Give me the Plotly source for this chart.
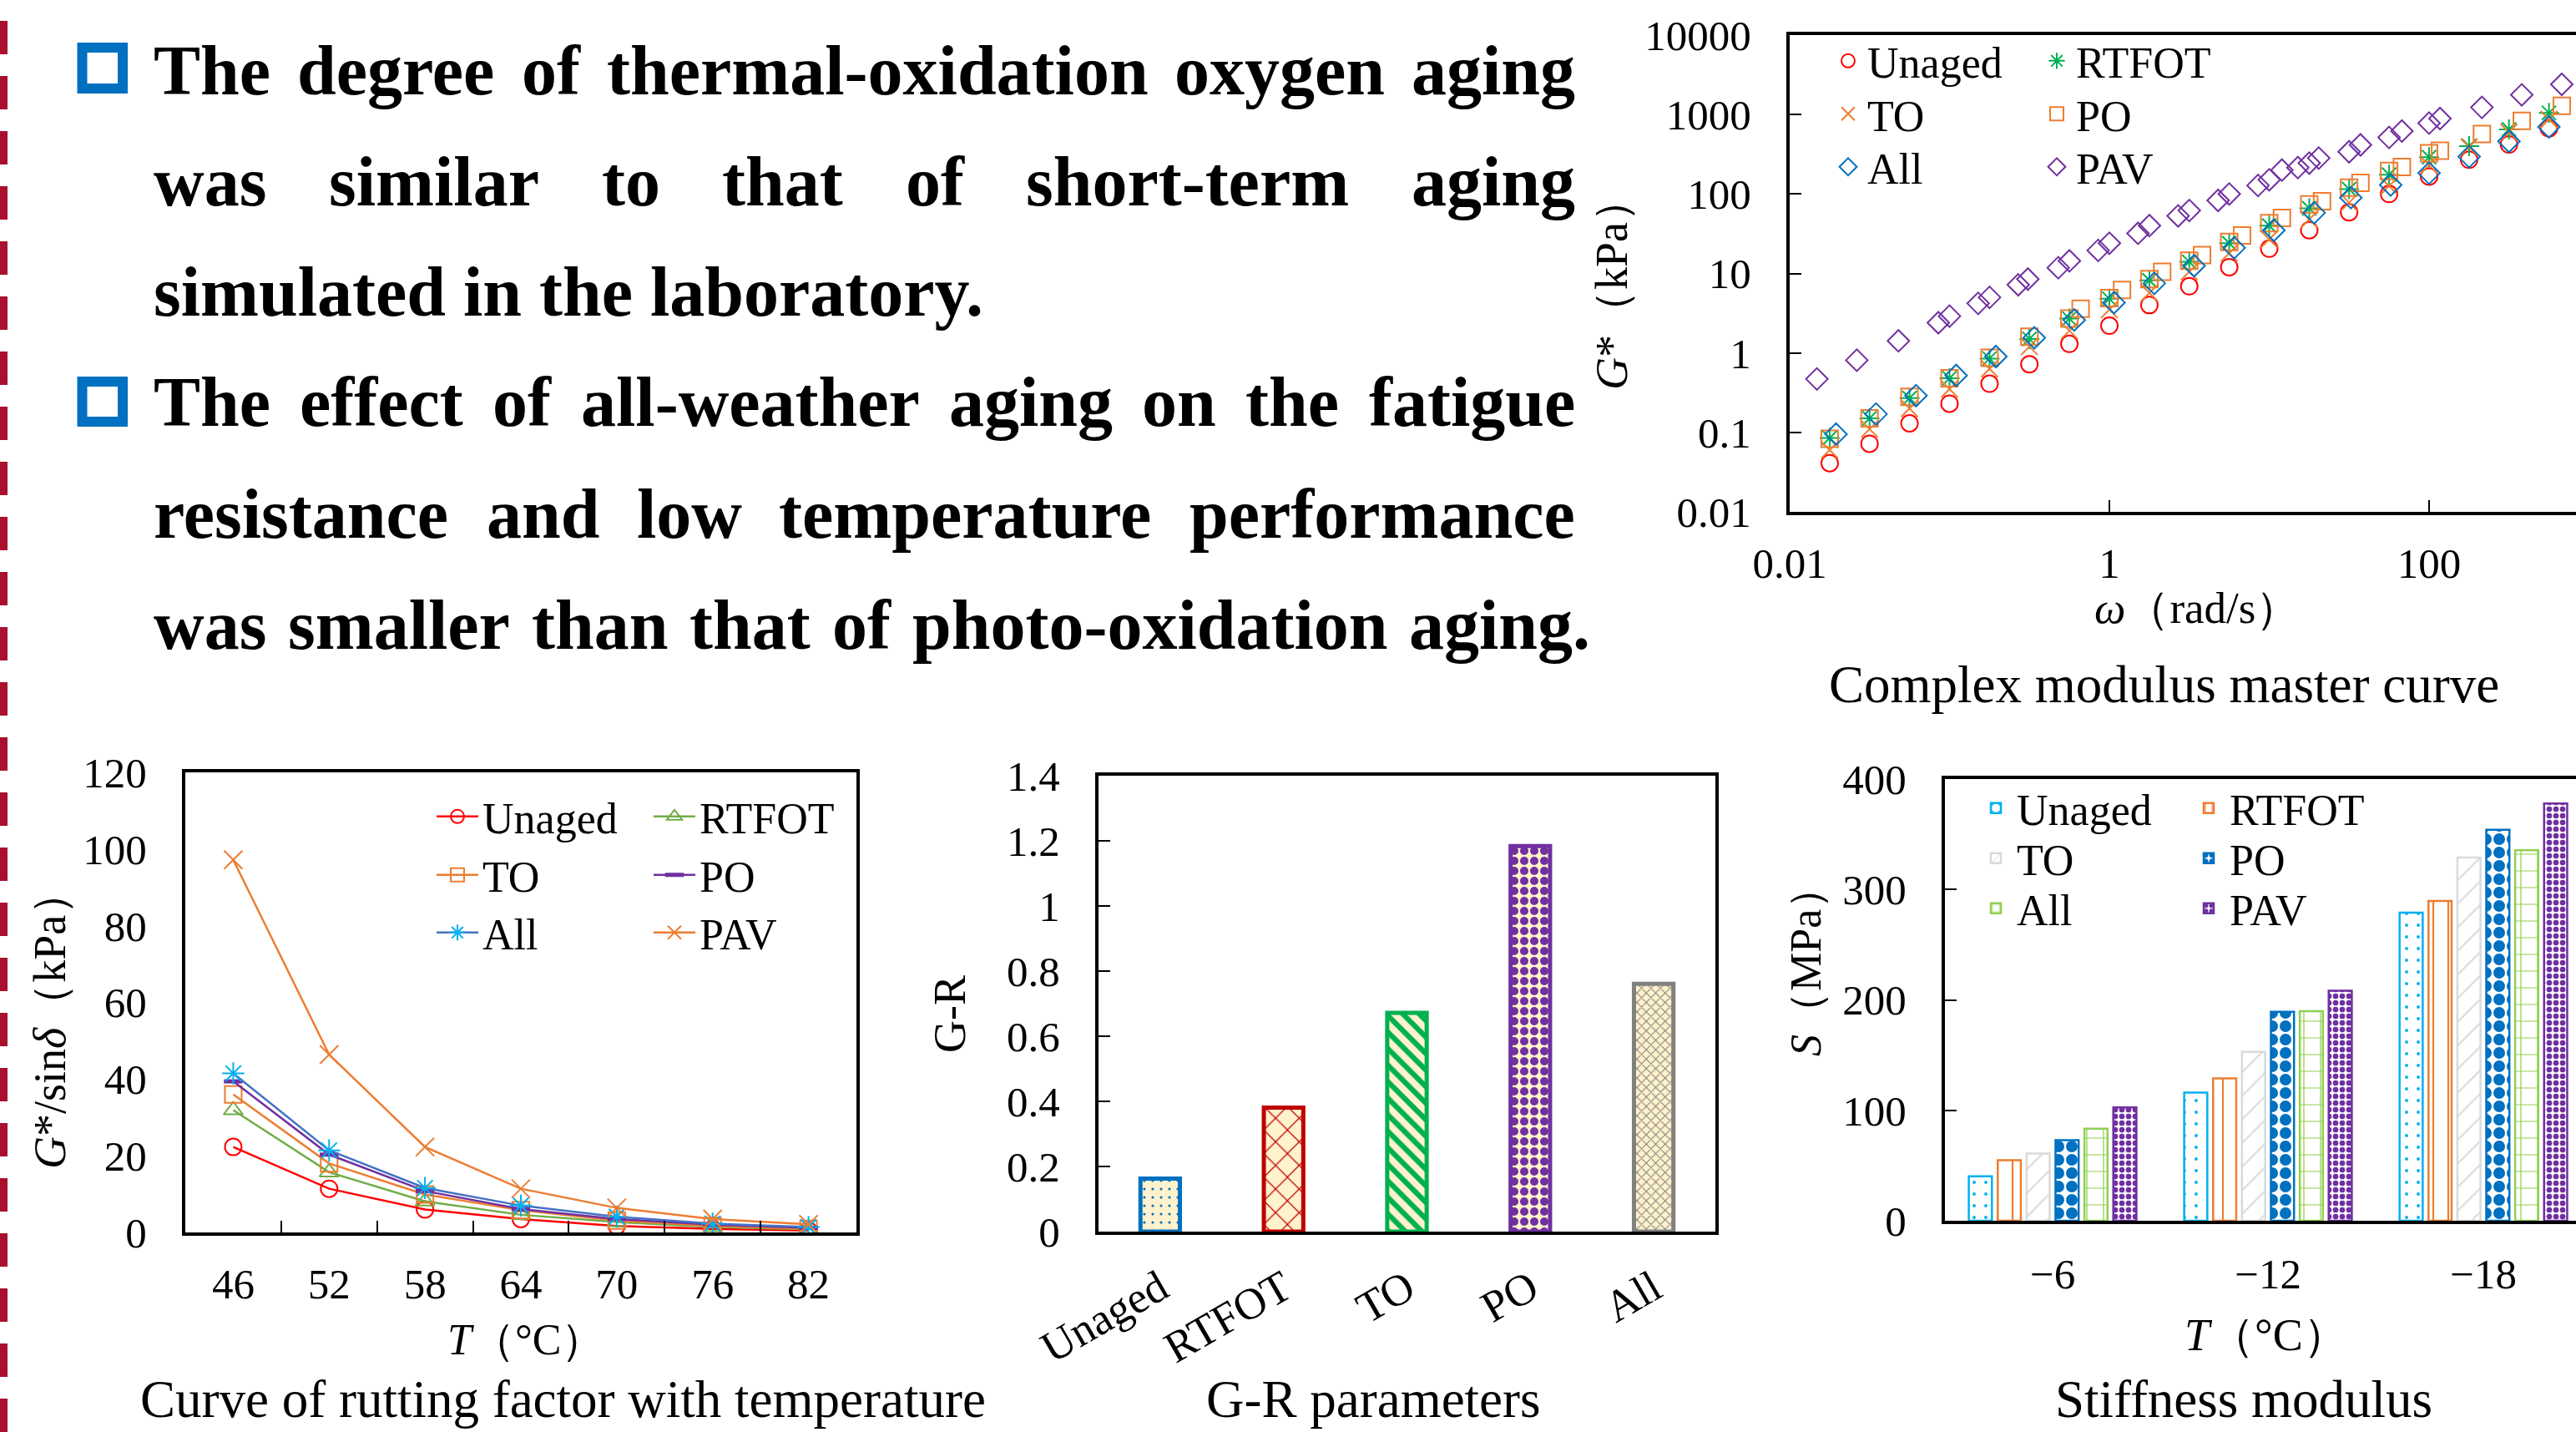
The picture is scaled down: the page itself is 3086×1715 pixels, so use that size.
import plotly.graph_objects as go

W, H = 3086, 1715
OFF = 0  # body margin removed by post_script below
SERIF = "Liberation Serif, 'Times New Roman', serif"

# ---------------- data ----------------
series = ["Unaged", "RTFOT", "TO", "PO", "All", "PAV"]

# Complex modulus master curve: omega (rad/s) and G* (kPa)
mc_w = [0.0178, 0.0316, 0.0562, 0.1, 0.178, 0.316, 0.562, 1.0, 1.78, 3.16,
        5.62, 10, 17.8, 31.6, 56.2, 100, 178, 316, 562]
mc_unaged = [0.041, 0.072, 0.13, 0.23, 0.41, 0.72, 1.3, 2.2, 4.0, 6.9,
             12, 20.5, 35, 59, 100, 166, 270, 420, 670]
mc_rtfot = [0.085, 0.15, 0.27, 0.48, 0.85, 1.5, 2.7, 4.8, 8.2, 14,
            24, 40, 66, 115, 175, 290, 400, 650, 1050]
mc_to = [0.06, 0.11, 0.2, 0.35, 0.63, 1.2, 1.9, 3.5, 5.7, 10.5,
         18, 27, 48, 78, 126, 230, 390, 600, 870]
mc_all_w = [0.0195, 0.0347, 0.0617, 0.11, 0.195, 0.339, 0.603, 1.07, 1.91, 3.39,
            6.03, 10.7, 19.1, 32.4, 57.5, 100, 178, 316, 562]
mc_all = [0.095, 0.17, 0.29, 0.52, 0.9, 1.55, 2.6, 4.3, 7.5, 12.5,
          21, 35, 58, 90, 130, 183, 295, 460, 700]
mc_po_w = [0.0178, 0.0316, 0.0562, 0.1, 0.178, 0.316, 0.562, 0.661, 1.0, 1.2,
           1.78, 2.14, 3.16, 3.8, 5.62, 6.76, 10, 12.0, 17.8, 21.4,
           31.6, 37.2, 56.2, 67.6, 100, 117, 214, 380, 676]
mc_po = [0.083, 0.15, 0.28, 0.48, 0.87, 1.6, 2.7, 3.6, 4.9, 6.2,
         8.5, 10.5, 14.5, 17, 25, 30, 43, 50, 74, 81,
         120, 138, 195, 218, 325, 350, 570, 830, 1290]
mc_pav_w = [0.0148, 0.0263, 0.0479, 0.0851, 0.1, 0.151, 0.178, 0.269, 0.309, 0.479,
            0.562, 0.851, 1.0, 1.51, 1.78, 2.69, 3.16, 4.79, 5.62, 8.51,
            10, 12.0, 15.1, 17.8, 20.4, 31.6, 37.2, 56.2, 67.6, 100,
            117, 214, 380, 676]
mc_pav = [0.47, 0.81, 1.42, 2.4, 2.9, 4.2, 5.0, 7.2, 8.5, 11.8,
          14.4, 19.5, 24, 32, 40, 53, 62, 83, 100, 128,
          151, 200, 215, 245, 283, 340, 415, 515, 620, 780,
          890, 1230, 1770, 2400]
mc_xticks = [0.01, 1, 100]
mc_xticktext = ["0.01", "1", "100"]
mc_yticks = [0.01, 0.1, 1, 10, 100, 1000, 10000]
mc_yticktext = ["0.01", "0.1", "1", "10", "100", "1000", "10000"]

# Rutting factor G*/sin(delta) (kPa) vs temperature
rut_temps = ["46", "52", "58", "64", "70", "76", "82"]
rut_unaged = [22.3, 11.4, 6.0, 3.5, 1.7, 0.9, 0.5]
rut_rtfot = [31.9, 15.7, 8.1, 4.6, 2.7, 1.4, 0.8]
rut_to = [36.0, 18.0, 9.9, 5.8, 3.1, 1.7, 0.9]
rut_po = [39.4, 20.3, 10.8, 6.1, 3.5, 2.0, 1.2]
rut_all = [41.5, 21.4, 11.6, 7.0, 4.1, 2.3, 1.4]
rut_pav = [97.2, 46.4, 22.3, 11.4, 6.4, 3.5, 2.1]

# G-R parameter
gr_cats = ["Unaged", "RTFOT", "TO", "PO", "All"]
gr_vals = [0.163, 0.381, 0.672, 1.184, 0.761]

# Stiffness modulus S (MPa)
st_temps = ["\u22126", "\u221212", "\u221218"]
st_unaged = [40.3, 116, 279]
st_rtfot = [54.8, 128.9, 289.6]
st_to = [60.8, 153, 329]
st_po = [72.9, 189.3, 354]
st_all = [83.4, 189.7, 335.5]
st_pav = [102.7, 208.3, 377.8]

text_lines = [
    "The degree of thermal-oxidation oxygen aging",
    "was similar to that of short-term aging",
    "simulated in the laboratory.",
    "The effect of all-weather aging on the fatigue",
    "resistance and low temperature performance",
    "was smaller than that of photo-oxidation aging.",
]

# ---------------- helpers ----------------
def fx(p):
    return (p - OFF) / W


def fy(p):
    return 1 - (p - OFF) / H


BLACK = "black"
TICKFONT = dict(family=SERIF, size=51, color=BLACK)

fig = go.Figure()

# ---------- top-right: complex modulus master curve ----------
mc_styles = [
    ("Unaged", mc_w, mc_unaged, "circle-open", "#FF0000"),
    ("RTFOT", mc_w, mc_rtfot, "asterisk-open", "#00B050"),
    ("TO", mc_w, mc_to, "x-thin-open", "#ED7D31"),
    ("PO", mc_po_w, mc_po, "square-open", "#ED7D31"),
    ("All", mc_all_w, mc_all, "diamond-open", "#0070C0"),
    ("PAV", mc_pav_w, mc_pav, "diamond-open", "#7030A0"),
]
for i, (nm, xs, ys, sym, col) in enumerate(mc_styles):
    fig.add_trace(go.Scatter(
        x=xs, y=ys, name=nm, mode="markers", xaxis="x", yaxis="y",
        marker=dict(symbol=sym, size=20, color=col, line=dict(color=col, width=2)),
        legend="legend" if i == 0 else f"legend{i + 1}",
    ))

# ---------- bottom-left: rutting factor ----------
rut_styles = [
    ("Unaged", rut_unaged, "circle-open", "#FF0000", "#FF0000", 20),
    ("RTFOT", rut_rtfot, "triangle-up-open", "#70AD47", "#70AD47", 20),
    ("TO", rut_to, "square-open", "#ED7D31", "#ED7D31", 20),
    ("PO", rut_po, "line-ew", "#7030A0", "#7030A0", 16),
    ("All", rut_all, "asterisk-open", "#4472C4", "#00B0F0", 22),
    ("PAV", rut_pav, "x-thin-open", "#ED7D31", "#ED7D31", 22),
]
for i, (nm, ys, sym, lc, mcol, ms) in enumerate(rut_styles):
    fig.add_trace(go.Scatter(
        x=rut_temps, y=ys, name=nm, mode="lines+markers", xaxis="x2", yaxis="y2",
        line=dict(color=lc, width=2.5),
        marker=dict(symbol=sym, size=ms, color=mcol,
                    line=dict(color=mcol, width=5 if sym == "line-ew" else 2)),
        legend=f"legend{7 + i}",
    ))

# ---------- bottom-middle: G-R ----------
gr_colors = ["#0070C0", "#C00000", "#00B050", "#7030A0", "#808080"]
gr_shapes = [".", "x", "\\", ".", "x"]
gr_sizes = [10, 20, 14, 12, 8]
gr_solid = [0.08, 0.12, 0.45, 0.55, 0.25]
fig.add_trace(go.Bar(
    x=gr_cats, y=gr_vals, width=0.32, xaxis="x3", yaxis="y3", showlegend=False,
    marker=dict(color="#FFF2CC", line=dict(color=gr_colors, width=5),
                pattern=dict(shape=gr_shapes, fgcolor=gr_colors, bgcolor="#FFF2CC",
                             size=gr_sizes, solidity=gr_solid, fillmode="replace")),
))

# ---------- bottom-right: stiffness ----------
st_styles = [
    ("Unaged", st_unaged, "#00B0F0", ".", 14, 0.06),
    ("RTFOT", st_rtfot, "#ED7D31", "|", 18, 0.12),
    ("TO", st_to, "#D9D9D9", "/", 20, 0.1),
    ("PO", st_po, "#0070C0", ".", 16, 0.6),
    ("All", st_all, "#92D050", "+", 20, 0.12),
    ("PAV", st_pav, "#7030A0", ".", 8, 0.55),
]
for i, (nm, ys, col, shp, sz, sol) in enumerate(st_styles):
    fig.add_trace(go.Bar(
        x=st_temps, y=ys, name=nm, xaxis="x4", yaxis="y4",
        marker=dict(color="white", line=dict(color=col, width=2.5),
                    pattern=dict(shape=shp, fgcolor=col, bgcolor="white",
                                 size=sz, solidity=sol, fillmode="replace")),
        legend=f"legend{13 + i}",
    ))

# ---------------- axes ----------------
axis_common = dict(showline=True, linecolor=BLACK, linewidth=4, showgrid=False,
                   zeroline=False, tickfont=TICKFONT, tickcolor=BLACK,
                   ticklen=14, tickwidth=2, automargin=False)

layout = dict(
    width=W, height=H, autosize=False,
    margin=dict(l=0, r=0, t=0, b=0, pad=0, autoexpand=False),
    paper_bgcolor="white", plot_bgcolor="white",
    barmode="group", bargap=0.195, bargroupgap=0.2,
    font=dict(family=SERIF, color=BLACK),
    xaxis=dict(axis_common, domain=[fx(2144), 1.0], type="log", range=[-2, 2.919],
               anchor="y", mirror=True, ticks="inside",
               tickvals=mc_xticks, ticktext=mc_xticktext, ticklabelstandoff=14),
    yaxis=dict(axis_common, domain=[fy(613), fy(42)], type="log", range=[-2, 4],
               anchor="x", mirror=False, ticks="inside",
               tickvals=mc_yticks, ticktext=mc_yticktext, ticklabelstandoff=32),
    xaxis2=dict(axis_common, domain=[fx(222), fx(1026)], type="category",
                range=[-0.5, 6.5], anchor="y2", mirror=True, ticks="inside",
                tickson="boundaries", ticklabelstandoff=14),
    yaxis2=dict(axis_common, domain=[fy(1476), fy(925)], range=[0, 120], dtick=20,
                anchor="x2", mirror=True, ticks="", ticklabelstandoff=32),
    xaxis3=dict(axis_common, domain=[fx(1316), fx(2055)], type="category",
                range=[-0.5, 4.5], anchor="y3", mirror=True, ticks="",
                tickangle=-30, ticklabelstandoff=12,
                tickfont=dict(family=SERIF, size=53, color=BLACK)),
    yaxis3=dict(axis_common, domain=[fy(1475), fy(929)], range=[0, 1.4], dtick=0.2,
                anchor="x3", mirror=True, ticks="inside", ticklabelstandoff=32),
    xaxis4=dict(axis_common, domain=[fx(2330), 1.0], type="category",
                range=[-0.5, 2.43], anchor="y4", mirror=True, ticks="",
                ticklabelstandoff=16),
    yaxis4=dict(axis_common, domain=[fy(1462), fy(933)], range=[0, 400], dtick=100,
                anchor="x4", mirror=False, ticks="inside", ticklabelstandoff=32),
)


def leg(xpx, ypx, size, itemwidth=30):
    return dict(x=fx(xpx), y=fy(ypx), xanchor="left", yanchor="middle",
                bgcolor="rgba(0,0,0,0)", borderwidth=0, orientation="v",
                itemwidth=itemwidth,
                font=dict(family=SERIF, size=size, color=BLACK))


slots = [(0, 0), (1, 0), (0, 1), (1, 1), (0, 2), (1, 2)]
groups = [
    (1, [2191, 2441], [73, 136.5, 200], 52, 36),
    (7, [518, 778], [978, 1048, 1117], 52, 50),
    (13, [2366, 2621], [968, 1028, 1088], 52, 40),
]
for base, cols, rows, fs, iw in groups:
    for k, (c, r) in enumerate(slots):
        n = base + k
        key = "legend" if n == 1 else f"legend{n}"
        layout[key] = leg(cols[c], rows[r], fs, iw)

fig.update_layout(**layout)

# ---------------- text block (justified) ----------------
TB = {'T': 667, 'h': 556, 'e': 444, 'd': 556, 'g': 500, 'r': 444, 'o': 500,
      'f': 333, 't': 333, 'm': 833, 'a': 500, 'l': 278, '-': 333, 'x': 500,
      'i': 278, 'n': 556, 'y': 500, 'w': 722, 's': 389, '.': 250, 'u': 556,
      'b': 556, 'c': 444, 'p': 556}
FS = 84
LEFT = 183
baselines = [113, 245.5, 377.5, 510, 644, 777]
rights = [1886, 1886, None, 1886, 1886, 1904]


def wlen(w):
    return sum(TB.get(ch, 500) for ch in w) / 1000.0 * FS


annots = []
for line, base, right in zip(text_lines, baselines, rights):
    words = line.split(" ")
    widths = [wlen(w) for w in words]
    if right is None:
        gap = 0.25 * FS
    else:
        gap = (right - LEFT - sum(widths)) / (len(words) - 1)
    xpos = LEFT
    for w, wd in zip(words, widths):
        annots.append(dict(
            x=fx(xpos), y=fy(base - 0.3375 * FS), xref="paper", yref="paper",
            xanchor="left", yanchor="middle", showarrow=False, text=w,
            font=dict(family=SERIF, size=FS, color=BLACK, weight="bold"),
            borderpad=0))
        xpos += wd + gap


def note(text, xpx, ypx, size, angle=0):
    annots.append(dict(x=fx(xpx), y=fy(ypx), xref="paper", yref="paper",
                       xanchor="center", yanchor="middle", showarrow=False,
                       text=text, textangle=angle, borderpad=0,
                       font=dict(family=SERIF, size=size, color=BLACK)))


# axis titles
note("<i>G</i>*（kPa）", 1931, 340, 54, -90)
note("<i>ω</i>（rad/s）", 2632, 728, 53)
note("<i>G</i>*/sin<i>δ</i>（kPa）", 60, 1221, 54, -90)
note("<i>T</i>（°C）", 630, 1604, 52)
note("G-R", 1138, 1215, 54, -90)
note("<i>S</i>（MPa）", 2163, 1151, 52, -90)
note("<i>T</i>（°C）", 2715, 1599, 54)
# captions
note("Complex modulus master curve", 2592, 820, 63)
note("Curve of rutting factor with temperature", 674, 1676, 63)
note("G-R parameters", 1645, 1676, 63)
note("Stiffness modulus", 2688, 1676, 63)

fig.update_layout(annotations=annots)

# ---------------- decorative shapes ----------------
shapes = [
    dict(type="line", xref="paper", yref="paper", x0=fx(4.5), x1=fx(4.5), y0=0, y1=1,
         line=dict(color="#A8102E", width=9, dash="40px,26px")),
    dict(type="rect", xref="paper", yref="paper", x0=fx(98.5), x1=fx(147),
         y0=fy(106), y1=fy(57), line=dict(color="#0070C0", width=12),
         fillcolor="white"),
    dict(type="rect", xref="paper", yref="paper", x0=fx(98.5), x1=fx(147),
         y0=fy(505), y1=fy(457), line=dict(color="#0070C0", width=12),
         fillcolor="white"),
]
fig.update_layout(shapes=shapes)

fig.write_html(
    "out.html",
    config={"displayModeBar": False},
    post_script="document.body.style.margin='0px';"
                "document.documentElement.style.overflow='hidden';",
)
